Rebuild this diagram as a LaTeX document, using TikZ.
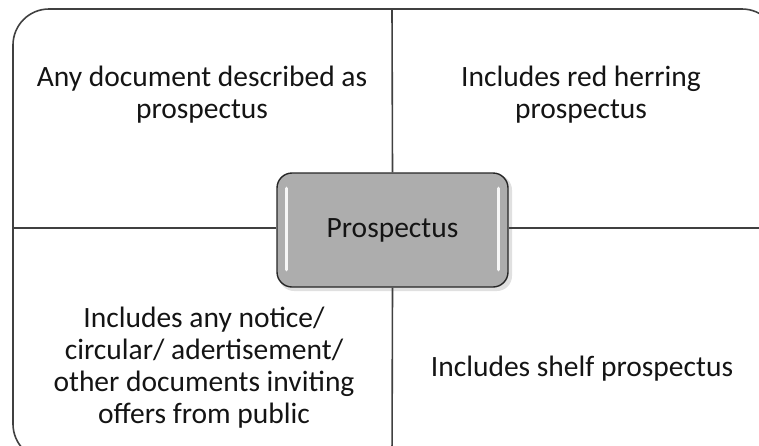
\documentclass[tikz,border=0pt]{standalone}
\usepackage{fontspec}
\setmainfont{Carlito}
\begin{document}
\begin{tikzpicture}[x=1pt,y=-1pt,
  frame/.style={draw=black!75,line width=1.6pt},
  divider/.style={draw=black!75,line width=1.6pt},
  label/.style={align=center,text=black!92,font=\fontsize{29.5}{32}\selectfont,inner sep=0pt},
  hub/.style={draw=black!85,line width=1.4pt,fill=black!32,rounded corners=15pt,
    minimum width=231pt,minimum height=114pt,inner sep=0pt,
    font=\fontsize{29.5}{32}\selectfont,text=black!92},
  gleam/.style={draw=white,line width=3.2pt,line cap=round,opacity=0.9}]
\useasboundingbox (0,0) rectangle (759,445);
\begin{scope}
\clip (0,0) rectangle (759,445);
% outer frame, running past the right and lower edges
\draw[frame,rounded corners=36pt] (13,9) rectangle (778,460);
\coordinate (ftop) at (392,9);
\coordinate (fbot) at (392,460);
\coordinate (fleft) at (13,228);
\coordinate (fright) at (778,228);
% central box with soft shadow and highlights
\fill[black!12,rounded corners=15pt] (279,175) rectangle (512,291);
\node[hub] (core) at (392.5,230) {Prospectus};
\draw[gleam] ([xshift=10pt,yshift=-16pt]core.north west) -- ([xshift=10pt,yshift=18pt]core.south west);
\draw[gleam] ([xshift=-10pt,yshift=-16pt]core.north east) -- ([xshift=-10pt,yshift=18pt]core.south east);
% dividers
\draw[divider] (core.north) -- (ftop);
\draw[divider] (core.south) -- (fbot);
\draw[divider] (core.west |- fleft) -- (fleft);
\draw[divider] (core.east |- fright) -- (fright);
\end{scope}
% quadrant texts
\node[label] (tl) at (202,94.4) {Any document described as\\prospectus};
\node[label] (tr) at (581,94.4) {Includes red herring\\prospectus};
\node[label] (bl) at (204,368) {Includes any notice/\\circular/ adertisement/\\other documents inviting\\offers from public};
\node[label] (br) at (582,368.4) {Includes shelf prospectus};
\end{tikzpicture}
\end{document}
